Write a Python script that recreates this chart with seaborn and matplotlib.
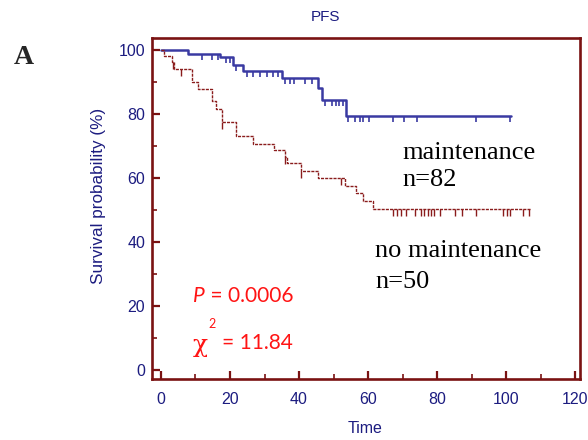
import numpy as np
import pandas as pd
import matplotlib
matplotlib.use("Agg")
import matplotlib.pyplot as plt
import seaborn as sns

# step curves (time, survival %)
maint_time = [0, 7.9, 17.0, 20.8, 23.7, 35.0, 45.6, 46.6, 53.5, 101.5]
maint_surv = [100, 98.8, 97.8, 95.3, 93.4, 91.3, 88.3, 84.4, 79.4, 79.4]
maint_cens_time = [11.8, 14.7, 16.6, 18.8, 20.0, 21.7, 24.8, 26.8, 28.7, 30.6, 32.6, 34.0,
                   35.9, 37.4, 38.6, 41.7, 43.7, 47.5, 49.5, 50.6, 51.7, 52.7,
                   54.1, 56.3, 57.6, 58.5, 60.4, 67.3, 70.4, 74.3, 91.2, 101.2]
maint_cens_surv = [98.8, 98.8, 98.8, 97.8, 97.8, 95.3, 93.4, 93.4, 93.4, 93.4, 93.4, 93.4,
                   91.3, 91.3, 91.3, 91.3, 91.3, 84.4, 84.4, 84.4, 84.4, 84.4,
                   79.4, 79.4, 79.4, 79.4, 79.4, 79.4, 79.4, 79.4, 79.4, 79.4]

nomaint_time = [0, 0.9, 3.1, 3.7, 8.9, 10.8, 14.7, 15.8, 17.8, 21.7, 26.8, 32.7,
                35.8, 36.6, 40.6, 45.6, 53.4, 56.5, 58.5, 61.5, 107.2]
nomaint_surv = [100, 98.2, 96.2, 94.2, 90.1, 87.8, 84.0, 81.7, 77.4, 73.1, 70.8, 68.8,
                66.7, 64.6, 62.3, 59.9, 57.5, 55.2, 52.9, 50.3, 50.3]
nomaint_cens_time = [3.4, 5.8, 17.8, 35.8, 40.6, 52.2,
                     67.3, 68.3, 69.5, 71.0, 73.6, 75.3, 76.3, 77.5, 78.3, 79.1, 80.7,
                     85.2, 87.2, 91.2, 99.2, 100.2, 101.2, 104.8, 106.6]
nomaint_cens_surv = [96.2, 94.2, 77.4, 66.7, 62.3, 59.9] + [50.3] * 19

xticks = [0, 20, 40, 60, 80, 100, 120]
yticks = [0, 20, 40, 60, 80, 100]

frame_col = "#7a1212"
navy = "#1c1c80"
blue = "#3a3aa2"
dred = "#8a1c1c"

sns.set_style("white")
plt.rcParams["font.family"] = ["Liberation Sans", "DejaVu Sans"]

fig = plt.figure(figsize=(5.88, 4.40), dpi=100)
ax = fig.add_axes([0.2585, 0.1386, 0.7279, 0.775])

m_df = pd.DataFrame({"time": maint_time, "surv": maint_surv})
n_df = pd.DataFrame({"time": nomaint_time, "surv": nomaint_surv})

sns.lineplot(data=m_df, x="time", y="surv", ax=ax, color=blue, linewidth=1.8,
             drawstyle="steps-post", estimator=None)
sns.lineplot(data=n_df, x="time", y="surv", ax=ax, color=dred, linewidth=1.0,
             drawstyle="steps-post", estimator=None, linestyle=(0, (2.2, 0.8)))

sns.scatterplot(x=maint_cens_time, y=maint_cens_surv, ax=ax, marker=3, s=16,
                color=blue, linewidth=1.2)
sns.scatterplot(x=nomaint_cens_time, y=nomaint_cens_surv, ax=ax, marker=3, s=24,
                color=dred, linewidth=1.0)

ax.set_xlim(-2.6, 121.4)
ax.set_ylim(-2.8, 103.8)
ax.set_xticks(xticks)
ax.set_yticks(yticks)
ax.set_xticks(np.arange(10, 120, 20), minor=True)
ax.set_yticks(np.arange(10, 100, 20), minor=True)
ax.tick_params(which="major", direction="in", length=6, width=1.6, color=frame_col,
               labelsize=11.5, labelcolor=navy)
ax.tick_params(which="minor", direction="in", length=3.5, width=1.2, color=frame_col)
ax.tick_params(axis="x", which="major", pad=9)
ax.tick_params(axis="y", which="major", pad=5)
ax.tick_params(bottom=True, left=True, which="both")
for sp in ax.spines.values():
    sp.set_color(frame_col)
    sp.set_linewidth(1.9)

ax.set_xlabel("Time", color=navy, fontsize=11.5)
ax.xaxis.set_label_coords(0.498, -0.122)
ax.set_ylabel("Survival probability (%)", color=navy, fontsize=12.3, va="center")
ax.yaxis.set_label_coords(-0.126, 0.537)
fig.text(326 / 588, 1 - 17 / 440, "PFS", color=navy, fontsize=11, ha="center", va="center")

fig.text(23.5 / 588, 1 - 57 / 440, "A", family="Liberation Serif", fontweight="bold",
         fontsize=20, ha="center", va="center")

serif = {"family": "Liberation Serif", "fontsize": 19, "color": "black", "va": "center"}
ax.text(69.9, 67.8, "maintenance", **serif)
ax.text(69.9, 59.3, "n=82", **serif)
ax.text(62.0, 37.3, "no maintenance", **serif)
ax.text(62.0, 27.4, "n=50", **serif)

red = "#ff1414"
sans = ["Lato", "DejaVu Sans"]
p_txt = ax.text(9.3, 23.0, "P", color=red, fontsize=15, family=sans, style="italic",
                va="center")
ax.annotate(" = 0.0006", xy=(1, 0.5), xycoords=p_txt, color=red, fontsize=15,
            family=sans, va="center")
ax.text(9.3, 7.8, "χ", color=red, fontsize=18, family=["DejaVu Serif", "DejaVu Sans"],
        va="center")
ax.text(14.8, 14.3, "2", color=red, fontsize=9, family=sans, va="center", ha="center")
ax.text(17.7, 8.4, "= 11.84", color=red, fontsize=15, family=sans, va="center")

fig.savefig("out.png", dpi=100)
